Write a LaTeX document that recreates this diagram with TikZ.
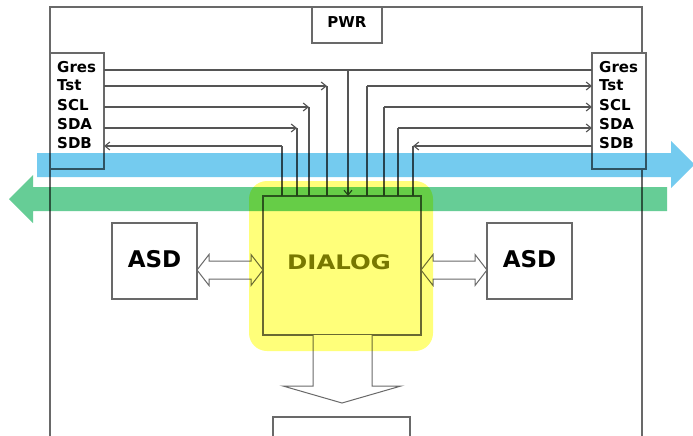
\documentclass[tikz,border=0pt]{standalone}
\usepackage{fontspec}
\setmainfont{DejaVu Sans}
\usetikzlibrary{arrows.meta}
\definecolor{lc}{RGB}{105,105,105}
\definecolor{wc}{RGB}{85,85,85}
\definecolor{bluec}{RGB}{116,203,239}
\definecolor{greenc}{RGB}{102,205,150}
\definecolor{yelc}{RGB}{255,255,122}
\definecolor{olivec}{RGB}{120,120,0}
\tikzset{
  frame/.style={draw=lc, line width=1.2pt},
  box/.style={draw=lc, line width=1.2pt, fill=white, inner sep=0pt, outer sep=0pt},
  wire/.style={draw=wc, line width=1.1pt},
  arr/.style={-{Straight Barb[length=5pt,width=8pt]}},
  lab/.style={font=\bfseries\fontsize{15}{18}\selectfont, anchor=base west, inner sep=0pt},
  big/.style={font=\bfseries\fontsize{23}{26}\selectfont, inner sep=0pt},
  dbl/.style={draw=lc, line width=1pt, fill=white, line join=miter}
}
\begin{document}
\begin{tikzpicture}[x=1pt,y=-1pt]
\useasboundingbox (0,0) rectangle (693,436);
\fill[white] (0,0) rectangle (693,436);
% outer frame
\draw[frame] (50,436) -- (50,7) -- (642,7) -- (642,53);
\draw[frame] (642,169) -- (642,436);
% boxes
\node[box, minimum width=70pt, minimum height=36pt] (pwr) at (347,25) {};
\node[font=\bfseries\fontsize{15}{18}\selectfont, inner sep=0pt] (pwrt) at (347,22) {PWR};
\node[box, minimum width=54pt, minimum height=116pt] (lbox) at (77,111) {};
\node[box, minimum width=54pt, minimum height=116pt] (rbox) at (619,111) {};
\node[lab] (lg) at (57,72) {Gres};
\node[lab] (lt) at (57,90.5) {Tst};
\node[lab] (lsc) at (57,110.5) {SCL};
\node[lab] (lsd) at (57,129) {SDA};
\node[lab] (lsb) at (57,148) {SDB};
\node[lab] (rg) at (599,72) {Gres};
\node[lab] (rt) at (599,90.5) {Tst};
\node[lab] (rsc) at (599,110.5) {SCL};
\node[lab] (rsd) at (599,129) {SDA};
\node[lab] (rsb) at (599,148) {SDB};
\node[box, minimum width=158pt, minimum height=139pt] (dlg) at (342,265.5) {};
\node[box, minimum width=85pt, minimum height=76pt] (asdl) at (154.5,261) {};
\node[big] at (154.5,259) {ASD};
\node[box, minimum width=85pt, minimum height=76pt] (asdr) at (529.5,261) {};
\node[big] at (529.5,259) {ASD};
% wire corners
\coordinate (cG) at (348,70);
\coordinate (cLT) at (327,86);
\coordinate (cLC) at (309,107);
\coordinate (cLD) at (297,128);
\coordinate (cLB) at (282,146);
\coordinate (cRT) at (367,86);
\coordinate (cRC) at (384,107);
\coordinate (cRD) at (398,128);
\coordinate (cRB) at (413,146);
% wires
\draw[wire] (lbox.east |- cG) -- (rbox.west |- cG);
\draw[wire,arr] (cG) -- (cG |- dlg.north);
\draw[wire,arr] (lbox.east |- cLT) -- (cLT);
\draw[wire] (cLT) -- (cLT |- dlg.north);
\draw[wire,arr] (lbox.east |- cLC) -- (cLC);
\draw[wire] (cLC) -- (cLC |- dlg.north);
\draw[wire,arr] (lbox.east |- cLD) -- (cLD);
\draw[wire] (cLD) -- (cLD |- dlg.north);
\draw[wire] (cLB |- dlg.north) -- (cLB);
\draw[wire,arr] (cLB) -- (lbox.east |- cLB);
\draw[wire] (cRT |- dlg.north) -- (cRT);
\draw[wire,arr] (cRT) -- (rbox.west |- cRT);
\draw[wire] (cRC |- dlg.north) -- (cRC);
\draw[wire,arr] (cRC) -- (rbox.west |- cRC);
\draw[wire] (cRD |- dlg.north) -- (cRD);
\draw[wire,arr] (cRD) -- (rbox.west |- cRD);
\draw[wire,arr] (rbox.west |- cRB) -- (cRB);
\draw[wire] (cRB) -- (cRB |- dlg.north);
% double arrows
\draw[dbl] (asdl.east |- 0,270) -- (209,254.5) -- (209,261) -- (251,261) -- (251,254.5)
  -- (dlg.west |- 0,270) -- (251,285.5) -- (251,279) -- (209,279) -- (209,285.5) -- cycle;
\draw[dbl] (dlg.east |- 0,270) -- (433,254.5) -- (433,261) -- (475,261) -- (475,254.5)
  -- (asdr.west |- 0,270) -- (475,285.5) -- (475,279) -- (433,279) -- (433,285.5) -- cycle;
% bottom arrow and box
\draw[dbl] (313,335) -- (313,386) -- (283,386) -- (342,403) -- (401,386) -- (372,386) -- (372,335);
\draw[frame] (273,436) -- (273,417) -- (410,417) -- (410,436);
\node[font=\bfseries\fontsize{20}{23}\selectfont, text=olivec, inner sep=0pt, xscale=1.22] (dlgt) at (339,262) {DIALOG};
% overlays
\begin{scope}[blend mode=multiply]
\fill[yelc, rounded corners=18pt] (249,181) rectangle (433,351);
\fill[bluec] (37,153) -- (671,153) -- (671,141) -- (694.5,164.5) -- (671,188) -- (671,177) -- (37,177) -- cycle;
\fill[greenc] (667,187) -- (33,187) -- (33,175) -- (9,199) -- (33,223) -- (33,211) -- (667,211) -- cycle;
\end{scope}
\end{tikzpicture}
\end{document}
